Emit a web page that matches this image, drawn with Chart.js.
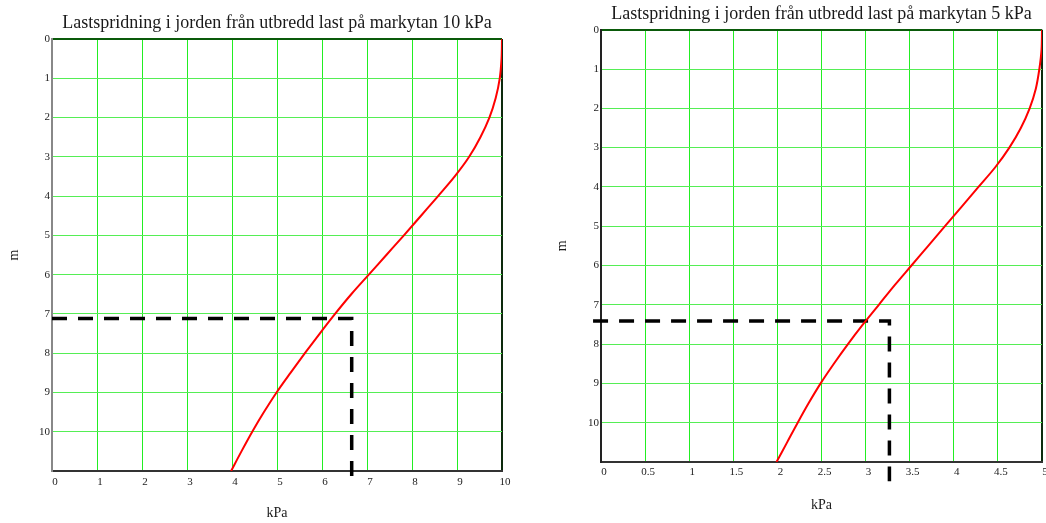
<!DOCTYPE html>
<html><head><meta charset="utf-8">
<script src="https://cdn.jsdelivr.net/npm/chart.js@4.4.1/dist/chart.umd.min.js"></script>
<style>
html,body{margin:0;padding:0;background:#fff;width:1046px;height:523px;overflow:hidden}
canvas{position:absolute;top:0}
#c1{left:0}
#c2{left:530px}
</style></head><body>
<canvas id="c1" width="520" height="523"></canvas>
<canvas id="c2" width="516" height="523"></canvas>
<script>
// ---- data ----
const depth10 = [0, 0.5, 1, 1.5, 2, 2.5, 3, 3.5, 4, 4.5, 5, 5.5, 6, 6.5, 7, 7.5, 8, 8.5, 9, 9.5, 10, 10.5, 11];
const load10  = [10, 9.99, 9.95, 9.86, 9.72, 9.52, 9.27, 8.95, 8.58, 8.20, 7.82, 7.43, 7.04, 6.65, 6.29, 5.95, 5.62, 5.30, 4.99, 4.71, 4.45, 4.21, 3.98];
const depth5  = [0, 0.5, 1, 1.5, 2, 2.5, 3, 3.5, 4, 4.5, 5, 5.5, 6, 6.5, 7, 7.5, 8, 8.5, 9, 9.5, 10, 10.5, 11];
const load5   = [5, 4.995, 4.97, 4.93, 4.86, 4.76, 4.63, 4.47, 4.28, 4.09, 3.90, 3.71, 3.52, 3.33, 3.15, 2.97, 2.80, 2.64, 2.49, 2.355, 2.23, 2.11, 1.99];
const guide10X = [0, 6.66, 6.66];
const guide10Y = [7.12, 7.12, 11.22];
const guide5X  = [-0.09, 3.27, 3.27];
const guide5Y  = [7.41, 7.41, 11.49];
const title10 = 'Lastspridning i jorden från utbredd last på markytan 10 kPa';
const title5  = 'Lastspridning i jorden från utbredd last på markytan 5 kPa';
const xTitle = 'kPa';
const yTitle = 'm';

const FONT = 'Liberation Serif';

function pts(xs, ys) { return xs.map((x, i) => ({x: x, y: ys[i]})); }
function fmt(v) { return String(+Number(v).toFixed(2)); }

function build(id, o) {
  const xmax = o.xmax;
  new Chart(document.getElementById(id), {
    type: 'scatter',
    data: {
      datasets: [
        {
          data: pts(o.load, o.depth),
          showLine: true,
          borderColor: '#ff0000',
          borderWidth: 2,
          pointRadius: 0,
          cubicInterpolationMode: 'monotone',
          indexAxis: 'y'
        },
        {
          data: pts(o.gx, o.gy),
          showLine: true,
          borderColor: '#000',
          borderWidth: 3.5,
          borderDash: [15, 11],
          pointRadius: 0,
          tension: 0,
          clip: false
        }
      ]
    },
    options: {
      responsive: false,
      animation: false,
      devicePixelRatio: 1,
      layout: {padding: {left: 0, right: o.padRight, top: 0, bottom: 0}},
      plugins: {
        legend: {display: false},
        tooltip: {enabled: false},
        title: {
          display: true,
          text: o.title,
          fullSize: false,
          color: '#1a1a1a',
          font: {family: FONT, size: 18, weight: 'normal'},
          padding: {top: o.titleTop, bottom: o.titleBottom}
        }
      },
      scales: {
        x: {
          type: 'linear',
          min: 0, max: xmax,
          ticks: {stepSize: o.xstep, color: '#222', font: {family: FONT, size: 11}, padding: o.xTickPad, labelOffset: 3, maxRotation: 0,
                  callback: v => fmt(v)},
          grid: {
            drawTicks: false,
            color: c => (c.tick && Math.abs(c.tick.value - xmax) < 1e-9) ? '#0d2a0d' : '#22ee22',
            lineWidth: c => (c.tick && Math.abs(c.tick.value - xmax) < 1e-9) ? 2 : 1
          },
          border: {color: '#333', width: 2},
          title: {display: true, text: xTitle, color: '#1a1a1a', font: {family: FONT, size: 14}, padding: {top: 0, bottom: o.xTitlePad}},
          afterFit: s => { s.height = o.xAxisH; s.paddingLeft = 0; s.paddingRight = 0; }
        },
        y: {
          type: 'linear',
          min: 0, max: 11, reverse: true,
          ticks: {stepSize: 1, color: '#222', font: {family: FONT, size: 11}, padding: 2,
                  callback: v => (v === 11 ? '' : fmt(v))},
          grid: {
            drawTicks: false,
            color: c => (c.tick && c.tick.value === 0) ? '#0a5a0a' : '#55ee55',
            lineWidth: c => (c.tick && c.tick.value === 0) ? 2 : 1
          },
          border: {color: o.yBorder, width: 2},
          title: {display: true, text: yTitle, color: '#1a1a1a', font: {family: FONT, size: 14}, padding: {top: o.yTitlePad, bottom: 0}},
          afterFit: s => { s.width = o.yAxisW; }
        }
      }
    }
  });
}

build('c1', {
  load: load10, depth: depth10, gx: guide10X, gy: guide10Y, title: title10,
  xmax: 10, xstep: 1, padRight: 18, titleTop: 12, titleBottom: 5.4,
  xTickPad: 5, xTitlePad: 1.6, xAxisH: 52, yAxisW: 52, yTitlePad: 5.6, yBorder: '#888'
});
build('c2', {
  load: load5, depth: depth5, gx: guide5X, gy: guide5Y, title: title5,
  xmax: 5, xstep: 0.5, padRight: 4, titleTop: 3.5, titleBottom: 4.6,
  xTickPad: 4, xTitlePad: 9.6, xAxisH: 61, yAxisW: 71, yTitlePad: 24, yBorder: '#222'
});
</script>
</body></html>
